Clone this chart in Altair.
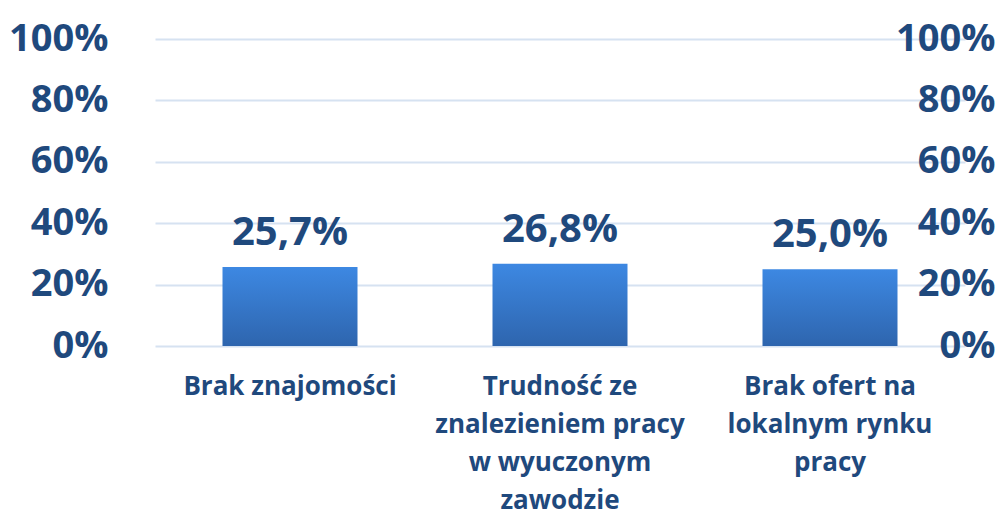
import altair as alt
import pandas as pd

categories = ["Brak znajomości", "Trudność ze\nznalezieniem pracy\nw wyuczonym\nzawodzie", "Brak ofert na\nlokalnym rynku\npracy"]
values = [25.7, 26.8, 25.0]
value_labels = ["25,7%", "26,8%", "25,0%"]

df = pd.DataFrame({"cat": categories, "val": values, "lab": value_labels})

TXT = "#1F497D"
FONT = "Open Sans"

xenc = alt.X("cat:N", sort=categories, title=None,
             scale=alt.Scale(paddingInner=0.5, paddingOuter=0.25),
             axis=alt.Axis(labelExpr="split(datum.label, '\\n')", labelAngle=0,
                           labelFont=FONT, labelFontSize=26, labelFontWeight="bold",
                           labelColor=TXT, labelLineHeight=38, labelPadding=27,
                           labelLimit=400, ticks=False, domain=False, grid=False))

yscale = alt.Scale(domain=[0, 100])

bars = alt.Chart(df).mark_bar(
    color=alt.Gradient(gradient="linear", x1=0, y1=0, x2=0, y2=1,
                       stops=[alt.GradientStop(color="#3D88E2", offset=0),
                              alt.GradientStop(color="#2E65AE", offset=1)])
).encode(
    x=xenc,
    y=alt.Y("val:Q", scale=yscale, title=None,
            axis=alt.Axis(orient="left", values=[0, 20, 40, 60, 80, 100],
                          labelExpr="datum.value + '%'", labelFont=FONT,
                          labelFontSize=38, labelFontWeight="bold", labelColor=TXT,
                          labelPadding=47, ticks=False, domain=False,
                          grid=True, gridColor="#D6E2F1", gridWidth=2))
)

text = alt.Chart(df).mark_text(
    font=FONT, fontSize=40, fontWeight="bold", color=TXT, baseline="alphabetic", dy=-22
).encode(
    x=alt.X("cat:N", sort=categories),
    y=alt.Y("val:Q", scale=yscale, title=None,
            axis=alt.Axis(orient="right", values=[0, 20, 40, 60, 80, 100],
                          labelExpr="datum.value + '%'", labelFont=FONT,
                          labelFontSize=38, labelFontWeight="bold", labelColor=TXT,
                          labelAlign="right", labelPadding=30, ticks=False,
                          domain=False, grid=False)),
    text="lab:N"
)

chart = alt.layer(bars, text).resolve_axis(y="independent").properties(
    width=810, height=307,
    autosize=alt.AutoSizeParams(type="none"),
    padding={"left": 147, "top": 31, "right": 31, "bottom": 170}
).configure_view(stroke=None)

chart.save("out.html", embed_options={"renderer": "svg", "actions": False})
